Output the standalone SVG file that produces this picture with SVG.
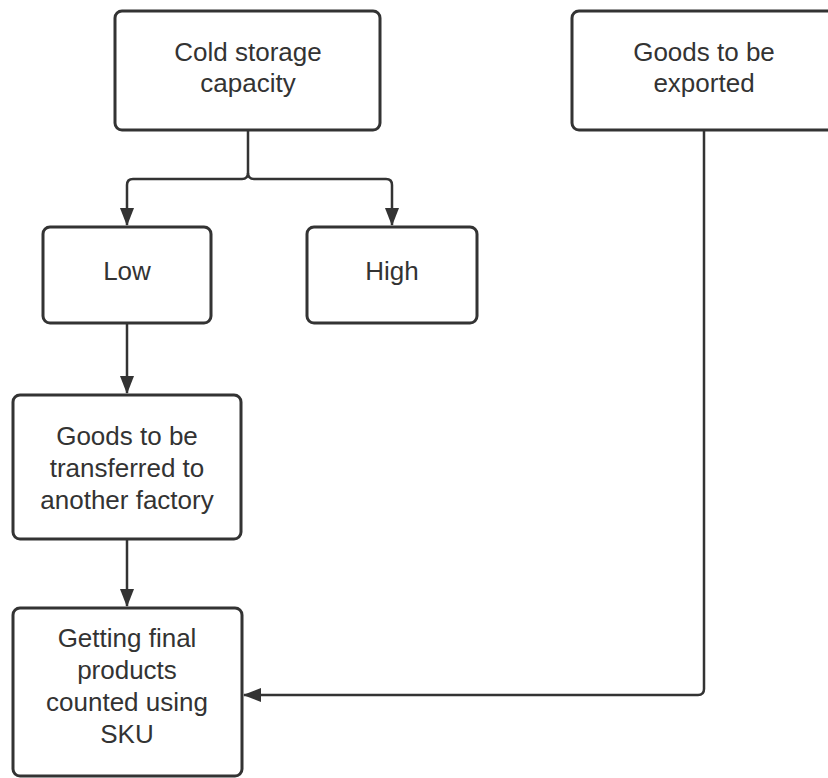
<svg xmlns="http://www.w3.org/2000/svg" width="828" height="778" viewBox="0 0 828 778">
<style>
.box{fill:#fff;stroke:#333;stroke-width:3}
.lbl{font-family:"Liberation Sans",Arial,sans-serif;font-size:26px;fill:#333;text-anchor:middle}
.edge{fill:none;stroke:#333;stroke-width:2.5}
</style>
<defs>
<marker id="ah" viewBox="0 0 18 14" refX="17" refY="7" markerWidth="18" markerHeight="14" markerUnits="userSpaceOnUse" orient="auto">
<path d="M0,0 L18,7 L0,14 Z" fill="#333"/>
</marker>
</defs>
<rect width="828" height="778" fill="#fff"/>
<g id="connectors">
<path class="edge" d="M248,130 V173 Q248,179 242,179 H133 Q127,179 127,185 V225" marker-end="url(#ah)"/>
<path class="edge" d="M248,173 Q248,179 254,179 H386 Q392,179 392,185 V225" marker-end="url(#ah)"/>
<path class="edge" d="M127,323 V393" marker-end="url(#ah)"/>
<path class="edge" d="M127,539 V606" marker-end="url(#ah)"/>
<path class="edge" d="M704,130 V689 Q704,695 698,695 H244" marker-end="url(#ah)"/>
</g>
<g id="n1"><rect class="box" x="115" y="11" width="265" height="119" rx="7"/>
<text class="lbl" x="248" y="61">Cold storage</text><text class="lbl" x="248" y="92">capacity</text></g>
<g id="n2"><rect class="box" x="572" y="11" width="266" height="119" rx="7"/>
<text class="lbl" x="704" y="61">Goods to be</text><text class="lbl" x="704" y="92">exported</text></g>
<g id="n3"><rect class="box" x="43" y="227" width="168" height="96" rx="7"/>
<text class="lbl" x="127" y="280">Low</text></g>
<g id="n4"><rect class="box" x="307" y="227" width="170" height="96" rx="7"/>
<text class="lbl" x="392" y="280">High</text></g>
<g id="n5"><rect class="box" x="13" y="395" width="228" height="144" rx="7"/>
<text class="lbl" x="127" y="445">Goods to be</text><text class="lbl" x="127" y="477">transferred to</text><text class="lbl" x="127" y="509">another factory</text></g>
<g id="n6"><rect class="box" x="13" y="608" width="229" height="168" rx="7"/>
<text class="lbl" x="127" y="647">Getting final</text><text class="lbl" x="127" y="679">products</text><text class="lbl" x="127" y="711">counted using</text><text class="lbl" x="127" y="743">SKU</text></g>
</svg>
